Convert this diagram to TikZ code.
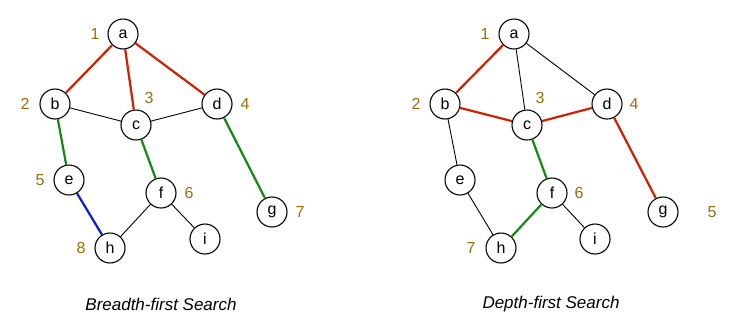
\documentclass[tikz,border=0pt]{standalone}
\usepackage{fontspec}
\setmainfont{Liberation Sans}
\definecolor{tred}{RGB}{204,34,0}
\definecolor{tgreen}{RGB}{17,140,17}
\definecolor{tblue}{RGB}{0,34,210}
\definecolor{tnum}{RGB}{155,110,10}
\tikzset{
  vtx/.style={circle,draw=black,line width=1.1pt,fill=white,minimum size=30pt,inner sep=0pt,font=\fontsize{16}{16}\selectfont},
  num/.style={text=tnum,font=\fontsize{16}{16}\selectfont,inner sep=0pt},
  plain/.style={draw=black,line width=0.9pt},
  redE/.style={draw=tred,line width=2.2pt},
  greenE/.style={draw=tgreen,line width=2.2pt},
  blueE/.style={draw=tblue,line width=2.2pt},
  captxt/.style={font=\fontsize{17}{17}\selectfont\itshape,inner sep=0pt}
}
\begin{document}
\begin{tikzpicture}[x=1pt,y=-1pt]
\useasboundingbox (0,0) rectangle (739,330);
% left graph
\node[vtx] (La) at (123,34) {a};
\node[vtx] (Lb) at (55,104) {b};
\node[vtx] (Lc) at (136,125) {c};
\node[vtx] (Ld) at (217,104) {d};
\node[vtx] (Le) at (69,180) {e};
\node[vtx] (Lf) at (161,193) {f};
\node[vtx] (Lg) at (272,212) {g};
\node[vtx] (Lh) at (110,248) {h};
\node[vtx] (Li) at (205,239) {i};
\node[num] (L1) at (95,34) {1};
\node[num] (L2) at (25,104) {2};
\node[num] (L3) at (149,98) {3};
\node[num] (L4) at (245,104) {4};
\node[num] (L5) at (40,180) {5};
\node[num] (L6) at (189,193) {6};
\node[num] (L7) at (300,212) {7};
\node[num] (L8) at (81,248) {8};
\draw[redE] (La) -- (Lb);
\draw[redE] (La) -- (Lc);
\draw[redE] (La) -- (Ld);
\draw[plain] (Lb) -- (Lc);
\draw[plain] (Lc) -- (Ld);
\draw[greenE] (Lb) -- (Le);
\draw[greenE] (Lc) -- (Lf);
\draw[greenE] (Ld) -- (Lg);
\draw[blueE] (Le) -- (Lh);
\draw[plain] (Lf) -- (Lh);
\draw[plain] (Lf) -- (Li);
% right graph
\node[vtx] (Ra) at (514,34) {a};
\node[vtx] (Rb) at (445,104) {b};
\node[vtx] (Rc) at (527,125) {c};
\node[vtx] (Rd) at (607,104) {d};
\node[vtx] (Re) at (460,180) {e};
\node[vtx] (Rf) at (552,193) {f};
\node[vtx] (Rg) at (663,212) {g};
\node[vtx] (Rh) at (501,248) {h};
\node[vtx] (Ri) at (595,239) {i};
\node[num] (R1) at (485,34) {1};
\node[num] (R2) at (416,104) {2};
\node[num] (R3) at (540,98) {3};
\node[num] (R4) at (634,104) {4};
\node[num] (R5) at (712,212) {5};
\node[num] (R6) at (579,193) {6};
\node[num] (R7) at (471,248) {7};
\draw[redE] (Ra) -- (Rb);
\draw[plain] (Ra) -- (Rc);
\draw[plain] (Ra) -- (Rd);
\draw[redE] (Rb) -- (Rc);
\draw[redE] (Rc) -- (Rd);
\draw[redE] (Rd) -- (Rg);
\draw[plain] (Rb) -- (Re);
\draw[plain] (Re) -- (Rh);
\draw[greenE] (Rc) -- (Rf);
\draw[greenE] (Rf) -- (Rh);
\draw[plain] (Rf) -- (Ri);
% captions
\node[captxt] (capL) at (161,304) {Breadth-first Search};
\node[captxt] (capR) at (551,304) {Depth-first Search};
\end{tikzpicture}
\end{document}
